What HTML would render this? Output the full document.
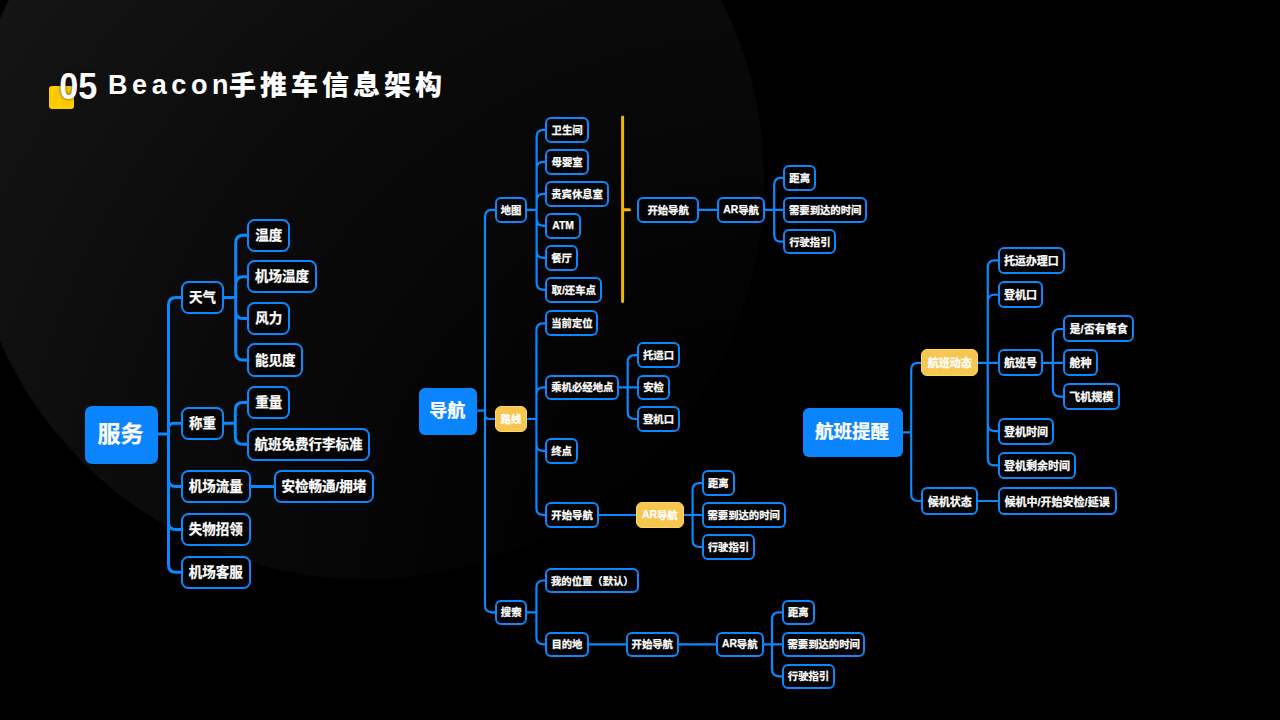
<!DOCTYPE html>
<html lang="zh-CN">
<head>
<meta charset="utf-8">
<title>05 Beacon手推车信息架构</title>
<style>
html,body{margin:0;padding:0;background:#000;}
body{width:1280px;height:720px;overflow:hidden;position:relative;font-family:"Liberation Sans","Noto Sans CJK SC",sans-serif;color:#fff;}
.circle{position:absolute;left:-34px;top:-219px;width:798px;height:798px;border-radius:50%;background:radial-gradient(circle 1128px at 100% 100%,#000 0%,#010101 10%,#020202 20%,#040404 30%,#070707 40%,#090909 50%,#0c0c0c 60%,#101010 70%,#131313 80%,#171717 90%,#1b1b1b 100%);}
.sq{position:absolute;left:49px;top:86px;width:25px;height:23px;border-radius:3px;background:#ffcc00;}
.num{position:absolute;left:59.3px;top:66px;font-size:34.2px;font-weight:bold;line-height:40px;white-space:nowrap;transform:scaleY(1.07);transform-origin:0 50%;text-shadow:0 0 3px rgba(0,0,0,.7);}
.ttl{position:absolute;left:108px;top:62px;font-size:27px;font-weight:bold;line-height:40px;white-space:nowrap;letter-spacing:3.5px;}
.ttl .en{font-size:27px;letter-spacing:4.6px;position:relative;top:3.2px;}
.ttl .zh{font-weight:900;position:relative;left:-4.1px;top:3.5px;letter-spacing:4.0px;}
svg{position:absolute;left:0;top:0;}
.n{-webkit-text-stroke:0.25px #fff;position:absolute;box-sizing:border-box;padding-bottom:2.5px;display:flex;align-items:center;justify-content:center;white-space:nowrap;font-weight:bold;color:#fff;}
.o{background:rgba(0,0,0,.5);border:2px solid #0a88ff;}
.L{font-size:13.5px;border-radius:7.5px;border-width:2.5px;}
.C{font-size:10.35px;border-radius:6px;border-width:2.2px;padding-bottom:0.8px;}
.R{font-size:11px;border-radius:6px;border-width:2.2px;padding-bottom:0.8px;}
.lat{font-family:"DejaVu Sans","Liberation Sans",sans-serif;font-size:9.3px;position:relative;top:0.5px;}
.yel{background:#f7c650;border:1.5px solid #fdd660;}
.root{background:#0a84ff;border-radius:7px;padding-bottom:5.5px;padding-right:2px;}
.r1{font-size:23px;}
.r2{font-size:18px;border-radius:6px;}
.r3{font-size:18.5px;border-radius:6px;}
</style>
</head>
<body>
<div class="circle"></div>
<div class="sq"></div>
<div class="num">05</div>
<div class="ttl"><span class="en">Beacon</span><span class="zh">手推车信息架构</span></div>
<svg width="1280" height="720" viewBox="0 0 1280 720" fill="none" stroke-linecap="butt" stroke-linejoin="round">
<path stroke="#0a88ff" stroke-width="3" d="M158 434H168.5V305.0Q168.5 297.5 176.0 297.5H181.4M158 434H168.5V428.6Q168.5 423.2 173.9 423.2H181.4M158 434H168.5V479.1Q168.5 486.6 176.0 486.6H181.4M158 434H168.5V522.0Q168.5 529.5 176.0 529.5H181.4M158 434H168.5V564.7Q168.5 572.2 176.0 572.2H181.4M223.4 297.5H235.7V242.8Q235.7 235.3 243.2 235.3H247.6M223.4 297.5H235.7V284.2Q235.7 276.7 243.2 276.7H247.6M223.4 297.5H235.7V311.0Q235.7 318.5 243.2 318.5H247.6M223.4 297.5H235.7V352.5Q235.7 360 243.2 360H247.6M223.6 423.2H235.3V410.1Q235.3 402.6 242.8 402.6H247.8M223.6 423.2H235.3V436.8Q235.3 444.3 242.8 444.3H247.8M250.2 486.6H274.1"/>
<path stroke="#0a88ff" stroke-width="2.2" d="M477.3 410.6H485V216.8Q485 209.8 492 209.8H495.4M477.3 410.6H485V414.8Q485 419 489.2 419H495.4M477.3 410.6H485V605.3Q485 612.3 492 612.3H495.4M526.8 209.8H536.6V136.8Q536.6 129.8 543.6 129.8H545.8M526.8 209.8H536.6V168.8Q536.6 161.8 543.6 161.8H545.8M526.8 209.8H536.6V200.8Q536.6 193.8 543.6 193.8H545.8M526.8 209.8H536.6V218.8Q536.6 225.8 543.6 225.8H545.8M526.8 209.8H536.6V250.8Q536.6 257.8 543.6 257.8H545.8M526.8 209.8H536.6V282.8Q536.6 289.8 543.6 289.8H545.8M698.7 209.8H717.4M764.8 209.8H774.2V184.8Q774.2 177.8 781.2 177.8H783.6M764.8 209.8H783.6M764.8 209.8H774.2V234.7Q774.2 241.7 781.2 241.7H783.6M527.2 419H536.4V330.3Q536.4 323.3 543.4 323.3H545.8M527.2 419H536.4V394.3Q536.4 387.3 543.4 387.3H545.8M527.2 419H536.4V443.9Q536.4 450.9 543.4 450.9H545.8M527.2 419H536.4V508Q536.4 515 543.4 515H545.8M618.8 387.3H627.7V362.1Q627.7 355.1 634.7 355.1H637.5M618.8 387.3H637.5M618.8 387.3H627.7V412Q627.7 419 634.7 419H637.5M598.4 515H636.1M683.7 515H692.6V490.1Q692.6 483.1 699.6 483.1H702.2M683.7 515H702.2M683.7 515H692.6V540Q692.6 547 699.6 547H702.2M526.9 612.3H536.4V587.5Q536.4 580.5 543.4 580.5H545.7M526.9 612.3H536.4V637.3Q536.4 644.3 543.4 644.3H545.7M588.2 644.3H625.9M678.6 644.3H716.2M763.3 644.3H772V619.3Q772 612.3 779 612.3H782.3M763.3 644.3H782.3M763.3 644.3H772V669.3Q772 676.3 779 676.3H782.3"/>
<path stroke="#0a88ff" stroke-width="2.2" d="M902.8 432.3H911.2V369.9Q911.2 362.9 918.2 362.9H921.5M902.8 432.3H911.2V494Q911.2 501 918.2 501H921.5M978 362.9H987.75V267.3Q987.75 260.3 994.75 260.3H998M978 362.9H987.75V301.75Q987.75 294.75 994.75 294.75H998M978 362.9H998M978 362.9H987.75V424.1Q987.75 431.1 994.75 431.1H998M978 362.9H987.75V458.4Q987.75 465.4 994.75 465.4H998M1042.8 362.9H1052.9V336Q1052.9 329 1059.9 329H1063.4M1042.8 362.9H1063.4M1042.8 362.9H1052.9V389.6Q1052.9 396.6 1059.9 396.6H1063.4M978 501H998"/>
<path stroke="#f7b500" stroke-width="3" stroke-linecap="round" d="M622.6 117V301.5M622.6 209.8H629.4"/>
</svg>
<div class="n root r1" style="left:85.0px;top:406.0px;width:73.0px;height:58.0px">服务</div>
<div class="n o L" style="left:181.0px;top:281.0px;width:42.8px;height:33.3px">天气</div>
<div class="n o L" style="left:247.2px;top:218.6px;width:43.2px;height:33.4px">温度</div>
<div class="n o L" style="left:247.2px;top:260.1px;width:69.8px;height:33.3px">机场温度</div>
<div class="n o L" style="left:247.2px;top:301.8px;width:43.2px;height:33.4px">风力</div>
<div class="n o L" style="left:247.2px;top:343.4px;width:56.2px;height:33.3px">能见度</div>
<div class="n o L" style="left:181.0px;top:406.6px;width:43.0px;height:33.2px">称重</div>
<div class="n o L" style="left:247.4px;top:386.0px;width:42.6px;height:33.2px">重量</div>
<div class="n o L" style="left:247.4px;top:427.8px;width:122.4px;height:33.0px">航班免费行李标准</div>
<div class="n o L" style="left:181.0px;top:470.2px;width:69.6px;height:32.8px">机场流量</div>
<div class="n o L" style="left:273.7px;top:470.2px;width:100.5px;height:32.8px">安检畅通/拥堵</div>
<div class="n o L" style="left:181.0px;top:513.0px;width:69.6px;height:32.8px">失物招领</div>
<div class="n o L" style="left:181.0px;top:555.8px;width:69.6px;height:32.8px">机场客服</div>
<div class="n root r2" style="left:419.0px;top:388.0px;width:58.3px;height:46.6px">导航</div>
<div class="n o C" style="left:495.0px;top:197.1px;width:32.2px;height:25.5px">地图</div>
<div class="n o C" style="left:545.4px;top:117.0px;width:43.4px;height:25.6px">卫生间</div>
<div class="n o C" style="left:545.4px;top:149.0px;width:43.4px;height:25.6px">母婴室</div>
<div class="n o C" style="left:545.4px;top:181.0px;width:63.4px;height:25.6px">贵宾休息室</div>
<div class="n o C" style="left:545.4px;top:213.0px;width:35.3px;height:25.6px"><span class="en">ATM</span></div>
<div class="n o C" style="left:545.4px;top:245.0px;width:32.3px;height:25.6px">餐厅</div>
<div class="n o C" style="left:545.4px;top:277.0px;width:56.7px;height:25.6px">取/还车点</div>
<div class="n o C" style="left:637.1px;top:197.1px;width:62.0px;height:25.5px">开始导航</div>
<div class="n o C" style="left:717.0px;top:197.1px;width:48.2px;height:25.5px"><span class="en">AR</span>导航</div>
<div class="n o C" style="left:783.2px;top:165.0px;width:33.0px;height:25.7px">距离</div>
<div class="n o C" style="left:783.2px;top:197.1px;width:84.0px;height:25.5px">需要到达的时间</div>
<div class="n o C" style="left:783.2px;top:229.0px;width:53.3px;height:25.4px">行驶指引</div>
<div class="n yel C" style="left:494.9px;top:406.2px;width:32.4px;height:25.8px">路线</div>
<div class="n o C" style="left:545.4px;top:310.4px;width:53.0px;height:25.8px">当前定位</div>
<div class="n o C" style="left:545.4px;top:374.6px;width:73.8px;height:25.4px">乘机必经地点</div>
<div class="n o C" style="left:545.4px;top:438.1px;width:32.3px;height:25.6px">终点</div>
<div class="n o C" style="left:545.3px;top:502.1px;width:53.5px;height:25.7px">开始导航</div>
<div class="n o C" style="left:637.1px;top:342.4px;width:42.9px;height:25.4px">托运口</div>
<div class="n o C" style="left:637.1px;top:374.6px;width:32.9px;height:25.4px">安检</div>
<div class="n o C" style="left:637.1px;top:406.2px;width:42.9px;height:25.7px">登机口</div>
<div class="n yel C" style="left:636.0px;top:502.2px;width:47.8px;height:25.5px"><span class="en">AR</span>导航</div>
<div class="n o C" style="left:701.8px;top:470.3px;width:33.0px;height:25.6px">距离</div>
<div class="n o C" style="left:701.8px;top:502.1px;width:83.8px;height:25.7px">需要到达的时间</div>
<div class="n o C" style="left:701.8px;top:534.1px;width:53.2px;height:25.7px">行驶指引</div>
<div class="n o C" style="left:495.1px;top:599.6px;width:32.2px;height:25.5px">搜索</div>
<div class="n o C" style="left:545.3px;top:567.9px;width:94.1px;height:25.2px">我的位置（默认）</div>
<div class="n o C" style="left:545.3px;top:631.7px;width:43.3px;height:25.3px">目的地</div>
<div class="n o C" style="left:625.5px;top:631.7px;width:53.5px;height:25.3px">开始导航</div>
<div class="n o C" style="left:715.8px;top:631.7px;width:47.9px;height:25.3px"><span class="en">AR</span>导航</div>
<div class="n o C" style="left:781.9px;top:599.6px;width:32.9px;height:25.5px">距离</div>
<div class="n o C" style="left:781.9px;top:631.7px;width:83.6px;height:25.3px">需要到达的时间</div>
<div class="n o C" style="left:781.9px;top:663.6px;width:53.2px;height:25.4px">行驶指引</div>
<div class="n root r3" style="left:803.3px;top:407.5px;width:99.5px;height:49.7px">航班提醒</div>
<div class="n yel R" style="left:921.4px;top:349.4px;width:56.7px;height:27.0px">航班动态</div>
<div class="n o R" style="left:921.3px;top:487.3px;width:57.1px;height:27.3px">候机状态</div>
<div class="n o R" style="left:997.7px;top:246.7px;width:67.4px;height:27.2px">托运办理口</div>
<div class="n o R" style="left:997.7px;top:281.3px;width:45.5px;height:26.9px">登机口</div>
<div class="n o R" style="left:997.7px;top:349.4px;width:45.5px;height:26.8px">航班号</div>
<div class="n o R" style="left:997.6px;top:417.5px;width:56.9px;height:27.2px">登机时间</div>
<div class="n o R" style="left:997.6px;top:452.0px;width:78.7px;height:26.9px">登机剩余时间</div>
<div class="n o R" style="left:997.6px;top:487.3px;width:119.0px;height:27.3px">候机中/开始安检/延误</div>
<div class="n o R" style="left:1063.0px;top:315.2px;width:71.3px;height:26.8px">是/否有餐食</div>
<div class="n o R" style="left:1063.0px;top:349.4px;width:34.9px;height:26.8px">舱种</div>
<div class="n o R" style="left:1063.0px;top:383.1px;width:56.5px;height:27.0px">飞机规模</div>
</body>
</html>
